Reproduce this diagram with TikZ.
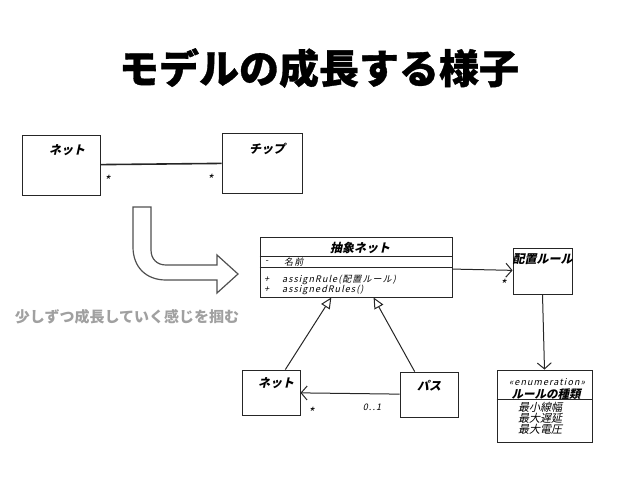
\documentclass[tikz,border=0pt]{standalone}
\usepackage{fontspec}
\usetikzlibrary{arrows.meta,positioning}
\newfontfamily\jpfont{Noto Sans CJK JP}
\newfontfamily\titlefont[FakeBold=0.8]{Noto Sans CJK JP}
\newfontfamily\handfont[FakeSlant=0.22]{Noto Sans CJK JP}
\newfontfamily\handwide[FakeSlant=0.22,LetterSpace=12]{Noto Sans CJK JP}
\definecolor{capgray}{HTML}{A0A0A0}
\definecolor{arrowgray}{HTML}{505050}
\tikzset{
  umlbox/.style={draw=black!85, line width=0.9pt, inner sep=0pt, fill=none},
  cname/.style={font=\handfont\bfseries\fontsize{12}{12}\selectfont, inner sep=0pt},
  member/.style={font=\handwide\fontsize{9}{9}\selectfont, inner sep=0pt, anchor=west},
  mult/.style={font=\handfont\fontsize{13}{13}\selectfont, inner sep=0pt, yshift=-3pt},
  assoc/.style={-{Straight Barb[length=6pt,width=14pt]}, line width=1pt, draw=black!85},
  inherit/.style={-{Triangle[open,length=11pt,width=10pt,fill=white]}, line width=1pt, draw=black!85},
  bigarrow/.style={draw=arrowgray, line width=1.2pt, fill=white}
}

\begin{document}
\begin{tikzpicture}[x=1pt, y=-1pt]
  \useasboundingbox (0,0) rectangle (638,479);

  \node[font=\titlefont\bfseries\fontsize{40}{40}\selectfont] (title) at (319,68) {モデルの成長する様子};

  % first model
  \node[umlbox, minimum width=78pt, minimum height=60pt] (net1) at (61,165) {};
  \node[cname, below=10pt of net1.north, xshift=6pt] (net1name) {ネット};
  \node[umlbox, minimum width=80pt, minimum height=60pt] (chip) at (262,163) {};
  \node[cname, below=10pt of chip.north, xshift=5pt] (chipname) {チップ};
  \draw[line width=1.6pt, draw=black!85] (net1) -- (chip);
  \node[mult] (m1) at (107,177) {*};
  \node[mult] (m2) at (210,176) {*};

  \draw[bigarrow] (133,207) -- (151,207) -- (151,250) .. controls (151,259) and (157,265) .. (166,265)
    -- (217,265) -- (217,255) -- (238,274) -- (217,293) -- (217,280) -- (166,280)
    .. controls (146,280) and (133,267) .. (133,247) -- cycle;
  \node[font=\jpfont\bfseries\fontsize{15}{15}\selectfont, text=capgray] (caption) at (127,317) {少しずつ成長していく感じを掴む};

  % grown model
  \node[umlbox, minimum width=192pt, minimum height=60pt] (abs) at (356,267) {};
  \draw[line width=0.9pt, draw=black!85] ([yshift=-20pt]abs.north west) -- ([yshift=-20pt]abs.north east);
  \draw[line width=0.9pt, draw=black!85] ([yshift=-31pt]abs.north west) -- ([yshift=-31pt]abs.north east);
  \node[cname, below=5pt of abs.north, xshift=4pt] (absname) {抽象ネット};
  \node[member] (vis1) at (265,262) {-};
  \node[member] (attr) at (284,262) {名前};
  \node[member] (vis2) at (264,280) {+};
  \node[member] (op1) at (282,280) {assignRule(配置ルール)};
  \node[member] (vis3) at (264,290) {+};
  \node[member] (op2) at (282,290) {assignedRules()};

  \node[umlbox, minimum width=59pt, minimum height=46pt] (rule) at (542.5,271) {};
  \node[cname, below=6pt of rule.north] (rulename) {配置ルール};

  \node[umlbox, minimum width=95pt, minimum height=72pt] (enum) at (544.5,406) {};
  \draw[line width=0.9pt, draw=black!85] ([yshift=-30pt]enum.north west) -- ([yshift=-30pt]enum.north east);
  \node[member, anchor=center] (stereo) at (547,382) {«enumeration»};
  \node[cname, font=\handfont\bfseries\fontsize{11.5}{11.5}\selectfont] (enumname) at (546,394) {ルールの種類};
  \node[member, anchor=north, align=center, font=\handfont\fontsize{11}{10}\selectfont] (items) at (540,402) {最小線幅\\最大遅延\\最大電圧};

  \node[umlbox, minimum width=58pt, minimum height=45pt] (net2) at (271,392.5) {};
  \node[cname, below=8pt of net2.north, xshift=5pt] (net2name) {ネット};
  \node[umlbox, minimum width=58pt, minimum height=45pt] (path) at (429,394.5) {};
  \node[cname, below=8pt of path.north] (pathname) {パス};

  \draw[assoc] (abs) -- (rule);
  \node[mult] (m3) at (503,281) {*};
  \draw[assoc] (rule.south) -- (enum.north);
  \draw[assoc] (path) -- (net2);
  \node[mult] (m4) at (311,409) {*};
  \node[member, anchor=center] (m5) at (372,407) {0..1};
  \draw[inherit] (net2.58) -- (abs.231);
  \draw[inherit] (path.122) -- (abs.300);
\end{tikzpicture}
\end{document}
